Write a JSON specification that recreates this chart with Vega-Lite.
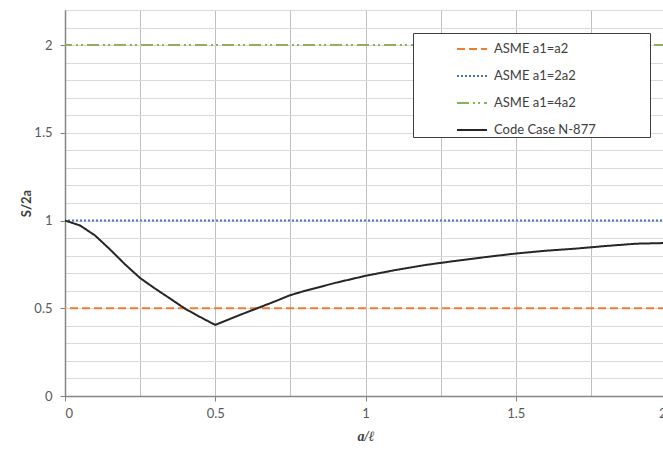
{
  "$schema": "https://vega.github.io/schema/vega-lite/v6.json",
  "width": 601,
  "height": 386,
  "autosize": {"type": "none"},
  "padding": {"left": 65, "top": 10, "right": 0, "bottom": 55},
  "background": "white",
  "config": {"view": {"stroke": "#bfbfbf", "strokeWidth": 1}, "font": "Lato"},
  "encoding": {
    "y": {
      "field": "y", "type": "quantitative",
      "scale": {"domain": [0, 2.2], "nice": false, "zero": true},
      "axis": {
        "title": "S/2a", "titleFontSize": 13, "titleFontWeight": "bold", "titleColor": "#404040", "titlePadding": 0,
        "values": [0,0.1,0.2,0.3,0.4,0.5,0.6,0.7,0.8,0.9,1,1.1,1.2,1.3,1.4,1.5,1.6,1.7,1.8,1.9,2,2.1,2.2],
        "labelExpr": "abs(datum.value*2 - round(datum.value*2)) < 0.001 ? format(datum.value, '~g') : ''",
        "labelFontSize": 13, "labelColor": "#595959", "labelPadding": 8,
        "tickSize": 5,
        "tickColor": {"condition": {"test": "abs(datum.value*2 - round(datum.value*2)) < 0.001", "value": "#808080"}, "value": "transparent"},
        "grid": true, "gridColor": "#d9d9d9", "gridWidth": 1,
        "domainColor": "#868686", "domainWidth": 1.5
      }
    },
    "color": {
      "field": "series", "type": "nominal",
      "scale": {"domain": ["ASME a1=a2", "ASME a1=2a2", "ASME a1=4a2", "Code Case N-877"], "range": ["#ED7D31", "#4472C4", "#8DB05A", "#262626"]},
      "legend": {
        "title": "\u2800\u2800\u2800\u2800\u2800", "titleOrient": "right", "titleFontSize": 13, "titlePadding": 4,
        "orient": "none", "legendX": 348, "legendY": 23,
        "strokeColor": "#404040", "fillColor": "white", "padding": 0,
        "symbolType": "stroke", "symbolSize": 900, "symbolStrokeWidth": 2,
        "symbolOffset": 43, "labelOffset": 6,
        "labelFontSize": 13, "labelColor": "#404040", "rowPadding": 4
      }
    },
    "strokeDash": {
      "field": "series", "type": "nominal",
      "scale": {"domain": ["ASME a1=a2", "ASME a1=2a2", "ASME a1=4a2", "Code Case N-877"], "range": [[8, 4], [2, 2], [12, 4, 2, 3, 2, 4], [1, 0]]},
      "legend": {
        "title": "\u2800\u2800\u2800\u2800\u2800", "titleOrient": "right", "titleFontSize": 13, "titlePadding": 4,
        "orient": "none", "legendX": 348, "legendY": 23,
        "strokeColor": "#404040", "fillColor": "white", "padding": 0,
        "symbolType": "stroke", "symbolSize": 900, "symbolStrokeWidth": 2,
        "symbolOffset": 43, "labelOffset": 6,
        "labelFontSize": 13, "labelColor": "#404040", "rowPadding": 4
      }
    }
  },
  "layer": [
    {
      "data": {"values": [
        {"series": "ASME a1=a2", "y": 0.5},
        {"series": "ASME a1=2a2", "y": 1},
        {"series": "ASME a1=4a2", "y": 2}
      ]},
      "mark": {"type": "rule", "strokeWidth": 2}
    },
    {
      "data": {"values": [
        {"series": "Code Case N-877", "x": 0, "y": 1.0},
        {"series": "Code Case N-877", "x": 0.05, "y": 0.972},
        {"series": "Code Case N-877", "x": 0.1, "y": 0.915},
        {"series": "Code Case N-877", "x": 0.15, "y": 0.835},
        {"series": "Code Case N-877", "x": 0.2, "y": 0.75},
        {"series": "Code Case N-877", "x": 0.25, "y": 0.672},
        {"series": "Code Case N-877", "x": 0.3, "y": 0.612},
        {"series": "Code Case N-877", "x": 0.35, "y": 0.555},
        {"series": "Code Case N-877", "x": 0.4, "y": 0.497},
        {"series": "Code Case N-877", "x": 0.45, "y": 0.45},
        {"series": "Code Case N-877", "x": 0.5, "y": 0.405},
        {"series": "Code Case N-877", "x": 0.55, "y": 0.44},
        {"series": "Code Case N-877", "x": 0.6, "y": 0.474},
        {"series": "Code Case N-877", "x": 0.65, "y": 0.507},
        {"series": "Code Case N-877", "x": 0.7, "y": 0.54},
        {"series": "Code Case N-877", "x": 0.75, "y": 0.575},
        {"series": "Code Case N-877", "x": 0.8, "y": 0.6},
        {"series": "Code Case N-877", "x": 0.9, "y": 0.645},
        {"series": "Code Case N-877", "x": 1.0, "y": 0.685},
        {"series": "Code Case N-877", "x": 1.1, "y": 0.718},
        {"series": "Code Case N-877", "x": 1.2, "y": 0.747},
        {"series": "Code Case N-877", "x": 1.3, "y": 0.77},
        {"series": "Code Case N-877", "x": 1.4, "y": 0.792},
        {"series": "Code Case N-877", "x": 1.5, "y": 0.812},
        {"series": "Code Case N-877", "x": 1.6, "y": 0.828},
        {"series": "Code Case N-877", "x": 1.7, "y": 0.84},
        {"series": "Code Case N-877", "x": 1.8, "y": 0.855},
        {"series": "Code Case N-877", "x": 1.9, "y": 0.868},
        {"series": "Code Case N-877", "x": 2.0, "y": 0.872}
      ]},
      "mark": {"type": "line", "strokeWidth": 2, "clip": true},
      "encoding": {
        "x": {
          "field": "x", "type": "quantitative",
          "scale": {"domain": [0, 2], "nice": false},
          "axis": {
            "title": "a/ℓ", "titleFont": "Liberation Serif", "titleFontStyle": "italic", "titleFontWeight": "bold", "titleFontSize": 14, "titleColor": "#404040", "titlePadding": 9,
            "values": [0, 0.25, 0.5, 0.75, 1, 1.25, 1.5, 1.75, 2],
            "labelExpr": "abs(datum.value*2 - round(datum.value*2)) < 0.001 ? format(datum.value, '~g') : ''",
            "labelFontSize": 13, "labelColor": "#595959", "labelPadding": 6,
            "tickSize": 5,
            "tickColor": {"condition": {"test": "abs(datum.value*2 - round(datum.value*2)) < 0.001", "value": "#808080"}, "value": "transparent"},
            "grid": true, "gridColor": "#bfbfbf", "gridWidth": 1,
            "domainColor": "#868686", "domainWidth": 1.5
          }
        }
      }
    }
  ]
}
